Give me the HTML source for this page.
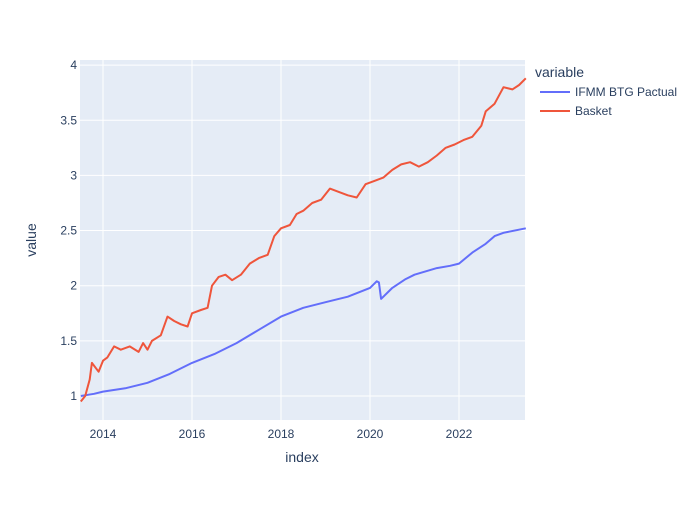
<!DOCTYPE html>
<html><head><meta charset="utf-8"><style>
body{margin:0;background:#fff;}
text{font-family:"Liberation Sans",sans-serif;fill:#2a3f5f;}
</style></head><body>
<svg id="c" width="700" height="500">
<rect x="80" y="60" width="445" height="360" fill="#E5ECF6"/>
<g id="grid"></g><g id="series"></g><g id="ticks"></g>
<text x="302" y="462" text-anchor="middle" font-size="14">index</text>
<text transform="translate(36,240) rotate(-90)" text-anchor="middle" font-size="14">value</text>
<text x="535" y="77" font-size="14">variable</text>
<g><line x1="540" y1="92" x2="570" y2="92" stroke="#636efa" stroke-width="2"/><text x="575" y="96" font-size="12">IFMM BTG Pactual</text></g>
<g><line x1="540" y1="111" x2="570" y2="111" stroke="#EF553B" stroke-width="2"/><text x="575" y="115" font-size="12">Basket</text></g>
</svg>
<script>
const xTicks=[2014,2016,2018,2020,2022];
const yTicks=[1,1.5,2,2.5,3,3.5,4];
const yTickLabels=["1","1.5","2","2.5","3","3.5","4"];
const ifmmT=[2013.5,2013.8,2014,2014.5,2015,2015.5,2016,2016.5,2017,2017.5,2018,2018.5,2019,2019.5,2020,2020.15,2020.2,2020.25,2020.5,2020.8,2021,2021.5,2021.8,2022,2022.3,2022.6,2022.8,2023,2023.5];
const ifmmV=[1.0,1.02,1.04,1.07,1.12,1.2,1.3,1.38,1.48,1.6,1.72,1.8,1.85,1.9,1.98,2.04,2.03,1.88,1.98,2.06,2.1,2.16,2.18,2.2,2.3,2.38,2.45,2.48,2.52];
const basketT=[2013.5,2013.6,2013.7,2013.75,2013.9,2014,2014.1,2014.25,2014.4,2014.6,2014.8,2014.9,2015,2015.1,2015.3,2015.45,2015.6,2015.75,2015.9,2016,2016.2,2016.35,2016.45,2016.6,2016.75,2016.9,2017.1,2017.3,2017.5,2017.7,2017.85,2018,2018.2,2018.35,2018.5,2018.7,2018.9,2019.1,2019.3,2019.5,2019.7,2019.9,2020.1,2020.3,2020.5,2020.7,2020.9,2021.1,2021.3,2021.5,2021.7,2021.9,2022.1,2022.3,2022.5,2022.6,2022.8,2023,2023.2,2023.35,2023.5];
const basketV=[0.95,1.0,1.15,1.3,1.22,1.32,1.35,1.45,1.42,1.45,1.4,1.48,1.42,1.5,1.55,1.72,1.68,1.65,1.63,1.75,1.78,1.8,2.0,2.08,2.1,2.05,2.1,2.2,2.25,2.28,2.45,2.52,2.55,2.65,2.68,2.75,2.78,2.88,2.85,2.82,2.8,2.92,2.95,2.98,3.05,3.1,3.12,3.08,3.12,3.18,3.25,3.28,3.32,3.35,3.45,3.58,3.65,3.8,3.78,3.82,3.88];
const X=t=>103+(t-2014)*44.5;
const Y=v=>396-(v-1)*110.3;
const NS="http://www.w3.org/2000/svg";
const grid=document.getElementById('grid'),ticks=document.getElementById('ticks'),ser=document.getElementById('series');
function mk(tag,attrs,parent){const e=document.createElementNS(NS,tag);for(const k in attrs)e.setAttribute(k,attrs[k]);parent.appendChild(e);return e;}
xTicks.forEach(t=>{
 const l=mk('line',{x1:X(t),x2:X(t),y1:60,y2:420,stroke:'#fff','stroke-width':1},grid);
 
 
 const tx=mk('text',{x:X(t),y:438,'text-anchor':'middle','font-size':12},ticks);tx.textContent=t;
 
 
});
yTicks.forEach((v,i)=>{
 const l=mk('line',{x1:80,x2:525,y1:Y(v),y2:Y(v),stroke:'#fff','stroke-width':1},grid);
 
 
 const tx=mk('text',{x:77,y:Y(v)+4,'text-anchor':'end','font-size':12},ticks);tx.textContent=yTickLabels[i];
 
 
});
function line(T,V,color,name){
 const d=T.map((t,i)=>(i?'L':'M')+X(t).toFixed(1)+','+Y(V[i]).toFixed(1)).join('');
 const p=mk('path',{d:d,fill:'none',stroke:color,'stroke-width':2,'stroke-linejoin':'round'},ser);
 
 
}
line(ifmmT,ifmmV,'#636efa','ifmm-line');
line(basketT,basketV,'#EF553B','basket-line');
</script>
</body></html>
